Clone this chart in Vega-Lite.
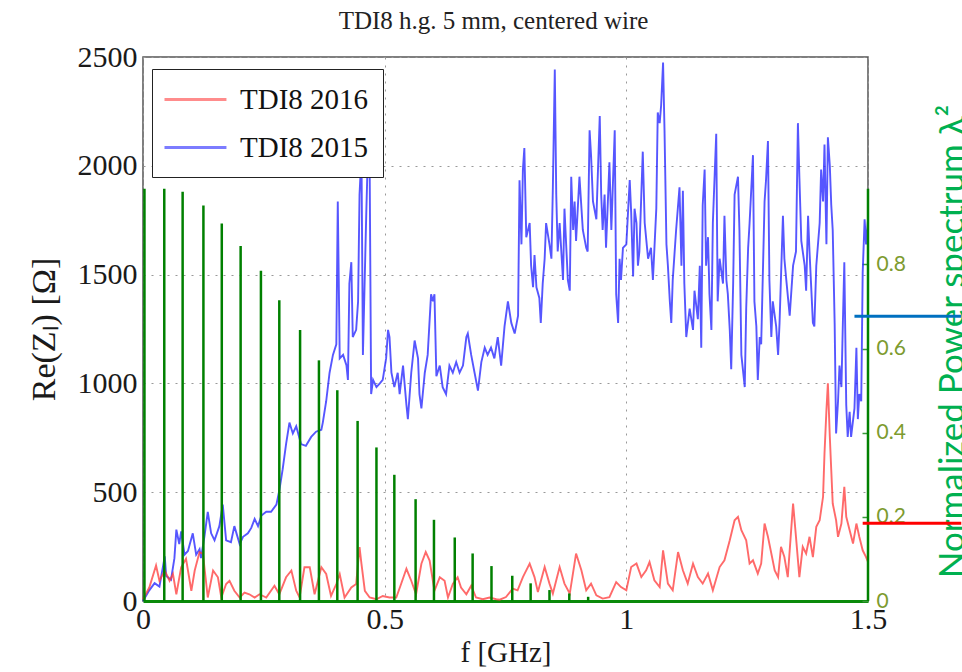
{
"$schema": "https://vega.github.io/schema/vega-lite/v6.json",
"width": 725,
"height": 544,
"autosize": "none",
"padding": {"left": 143, "top": 57, "right": 94, "bottom": 71},
"background": "white",
"title": {"text": "TDI8 h.g. 5 mm, centered wire", "font": "Liberation Serif", "fontSize": 25, "fontWeight": "normal", "color": "#222", "anchor": "middle", "dx": -12, "offset": 8},
"datasets": {
"lines": [
{"s":"TDI8 2015","f":0,"z":0},{"s":"TDI8 2015","f":0.013,"z":49},{"s":"TDI8 2015","f":0.024,"z":82},{"s":"TDI8 2015","f":0.034,"z":66},{"s":"TDI8 2015","f":0.045,"z":205},{"s":"TDI8 2015","f":0.048,"z":115},{"s":"TDI8 2015","f":0.058,"z":98},{"s":"TDI8 2015","f":0.065,"z":197},{"s":"TDI8 2015","f":0.069,"z":328},{"s":"TDI8 2015","f":0.075,"z":262},{"s":"TDI8 2015","f":0.079,"z":320},{"s":"TDI8 2015","f":0.086,"z":213},{"s":"TDI8 2015","f":0.093,"z":230},{"s":"TDI8 2015","f":0.103,"z":311},{"s":"TDI8 2015","f":0.11,"z":213},{"s":"TDI8 2015","f":0.117,"z":238},{"s":"TDI8 2015","f":0.12,"z":197},{"s":"TDI8 2015","f":0.127,"z":295},{"s":"TDI8 2015","f":0.134,"z":410},{"s":"TDI8 2015","f":0.141,"z":311},{"s":"TDI8 2015","f":0.148,"z":279},{"s":"TDI8 2015","f":0.158,"z":344},{"s":"TDI8 2015","f":0.165,"z":443},{"s":"TDI8 2015","f":0.172,"z":279},{"s":"TDI8 2015","f":0.182,"z":270},{"s":"TDI8 2015","f":0.189,"z":344},{"s":"TDI8 2015","f":0.2,"z":262},{"s":"TDI8 2015","f":0.207,"z":295},{"s":"TDI8 2015","f":0.217,"z":311},{"s":"TDI8 2015","f":0.224,"z":336},{"s":"TDI8 2015","f":0.231,"z":377},{"s":"TDI8 2015","f":0.238,"z":344},{"s":"TDI8 2015","f":0.245,"z":393},{"s":"TDI8 2015","f":0.255,"z":410},{"s":"TDI8 2015","f":0.265,"z":410},{"s":"TDI8 2015","f":0.276,"z":443},{"s":"TDI8 2015","f":0.282,"z":508},{"s":"TDI8 2015","f":0.289,"z":606},{"s":"TDI8 2015","f":0.296,"z":721},{"s":"TDI8 2015","f":0.303,"z":820},{"s":"TDI8 2015","f":0.31,"z":770},{"s":"TDI8 2015","f":0.317,"z":803},{"s":"TDI8 2015","f":0.327,"z":721},{"s":"TDI8 2015","f":0.337,"z":713},{"s":"TDI8 2015","f":0.348,"z":754},{"s":"TDI8 2015","f":0.358,"z":778},{"s":"TDI8 2015","f":0.369,"z":787},
{"s":"TDI8 2015","f":0.372,"z":820},{"s":"TDI8 2015","f":0.379,"z":918},{"s":"TDI8 2015","f":0.386,"z":1049},{"s":"TDI8 2015","f":0.393,"z":1131},{"s":"TDI8 2015","f":0.4,"z":1180},{"s":"TDI8 2015","f":0.403,"z":1836},{"s":"TDI8 2015","f":0.407,"z":1115},{"s":"TDI8 2015","f":0.414,"z":1131},{"s":"TDI8 2015","f":0.421,"z":1082},{"s":"TDI8 2015","f":0.424,"z":1016},{"s":"TDI8 2015","f":0.427,"z":1459},{"s":"TDI8 2015","f":0.431,"z":1557},{"s":"TDI8 2015","f":0.434,"z":1213},{"s":"TDI8 2015","f":0.441,"z":1246},{"s":"TDI8 2015","f":0.445,"z":1377},{"s":"TDI8 2015","f":0.448,"z":1868},{"s":"TDI8 2015","f":0.452,"z":2050},{"s":"TDI8 2015","f":0.455,"z":1131},{"s":"TDI8 2015","f":0.462,"z":1786},{"s":"TDI8 2015","f":0.465,"z":2032},{"s":"TDI8 2015","f":0.469,"z":1983},{"s":"TDI8 2015","f":0.472,"z":951},{"s":"TDI8 2015","f":0.476,"z":1016},{"s":"TDI8 2015","f":0.483,"z":983},{"s":"TDI8 2015","f":0.49,"z":1000},{"s":"TDI8 2015","f":0.496,"z":1016},{"s":"TDI8 2015","f":0.503,"z":1115},{"s":"TDI8 2015","f":0.507,"z":1246},{"s":"TDI8 2015","f":0.51,"z":1213},{"s":"TDI8 2015","f":0.514,"z":1049},{"s":"TDI8 2015","f":0.52,"z":983},{"s":"TDI8 2015","f":0.527,"z":1049},{"s":"TDI8 2015","f":0.531,"z":951},{"s":"TDI8 2015","f":0.538,"z":1082},{"s":"TDI8 2015","f":0.545,"z":901},{"s":"TDI8 2015","f":0.548,"z":836},{"s":"TDI8 2015","f":0.555,"z":1049},{"s":"TDI8 2015","f":0.562,"z":1197},{"s":"TDI8 2015","f":0.569,"z":1115},{"s":"TDI8 2015","f":0.572,"z":951},{"s":"TDI8 2015","f":0.576,"z":885},{"s":"TDI8 2015","f":0.583,"z":1049},{"s":"TDI8 2015","f":0.589,"z":1131},{"s":"TDI8 2015","f":0.596,"z":1410},{"s":"TDI8 2015","f":0.6,"z":1377},{"s":"TDI8 2015","f":0.603,"z":1410},{"s":"TDI8 2015","f":0.607,"z":1033},{"s":"TDI8 2015","f":0.614,"z":1082},{"s":"TDI8 2015","f":0.62,"z":983},{"s":"TDI8 2015","f":0.627,"z":951},{"s":"TDI8 2015","f":0.634,"z":1082},{"s":"TDI8 2015","f":0.641,"z":1049},{"s":"TDI8 2015","f":0.648,"z":1098},{"s":"TDI8 2015","f":0.655,"z":1049},{"s":"TDI8 2015","f":0.662,"z":1082},{"s":"TDI8 2015","f":0.669,"z":1213},{"s":"TDI8 2015","f":0.672,"z":1229},{"s":"TDI8 2015","f":0.679,"z":1131},{"s":"TDI8 2015","f":0.686,"z":1049},{"s":"TDI8 2015","f":0.693,"z":967},{"s":"TDI8 2015","f":0.7,"z":1098},{"s":"TDI8 2015","f":0.707,"z":1164},{"s":"TDI8 2015","f":0.713,"z":1131},{"s":"TDI8 2015","f":0.72,"z":1164},{"s":"TDI8 2015","f":0.727,"z":1115},{"s":"TDI8 2015","f":0.734,"z":1213},{"s":"TDI8 2015","f":0.741,"z":1082},
{"s":"TDI8 2015","f":0.748,"z":1262},{"s":"TDI8 2015","f":0.755,"z":1377},{"s":"TDI8 2015","f":0.762,"z":1278},{"s":"TDI8 2015","f":0.769,"z":1229},{"s":"TDI8 2015","f":0.776,"z":1311},{"s":"TDI8 2015","f":0.779,"z":1934},{"s":"TDI8 2015","f":0.783,"z":1639},{"s":"TDI8 2015","f":0.786,"z":1983},{"s":"TDI8 2015","f":0.789,"z":2082},{"s":"TDI8 2015","f":0.793,"z":1672},{"s":"TDI8 2015","f":0.8,"z":1737},{"s":"TDI8 2015","f":0.803,"z":1541},{"s":"TDI8 2015","f":0.807,"z":1442},{"s":"TDI8 2015","f":0.81,"z":1590},{"s":"TDI8 2015","f":0.814,"z":1442},{"s":"TDI8 2015","f":0.82,"z":1393},{"s":"TDI8 2015","f":0.823,"z":1278},{"s":"TDI8 2015","f":0.827,"z":1459},{"s":"TDI8 2015","f":0.831,"z":1573},{"s":"TDI8 2015","f":0.834,"z":1737},{"s":"TDI8 2015","f":0.841,"z":1639},{"s":"TDI8 2015","f":0.845,"z":1573},{"s":"TDI8 2015","f":0.848,"z":1901},{"s":"TDI8 2015","f":0.852,"z":2442},{"s":"TDI8 2015","f":0.855,"z":1868},{"s":"TDI8 2015","f":0.858,"z":1606},{"s":"TDI8 2015","f":0.862,"z":1737},{"s":"TDI8 2015","f":0.869,"z":1475},{"s":"TDI8 2015","f":0.872,"z":1803},{"s":"TDI8 2015","f":0.879,"z":1475},{"s":"TDI8 2015","f":0.883,"z":1426},{"s":"TDI8 2015","f":0.886,"z":1950},{"s":"TDI8 2015","f":0.89,"z":1705},{"s":"TDI8 2015","f":0.893,"z":1836},{"s":"TDI8 2015","f":0.896,"z":1655},{"s":"TDI8 2015","f":0.903,"z":1950},{"s":"TDI8 2015","f":0.91,"z":1705},{"s":"TDI8 2015","f":0.917,"z":1623},{"s":"TDI8 2015","f":0.92,"z":1606},{"s":"TDI8 2015","f":0.924,"z":2163},{"s":"TDI8 2015","f":0.927,"z":2049},{"s":"TDI8 2015","f":0.931,"z":1836},{"s":"TDI8 2015","f":0.938,"z":1754},{"s":"TDI8 2015","f":0.945,"z":2229},{"s":"TDI8 2015","f":0.948,"z":1868},{"s":"TDI8 2015","f":0.951,"z":1705},{"s":"TDI8 2015","f":0.955,"z":1868},{"s":"TDI8 2015","f":0.958,"z":1623},{"s":"TDI8 2015","f":0.965,"z":2016},{"s":"TDI8 2015","f":0.969,"z":1705},{"s":"TDI8 2015","f":0.976,"z":2163},{"s":"TDI8 2015","f":0.979,"z":1410},{"s":"TDI8 2015","f":0.983,"z":1278},{"s":"TDI8 2015","f":0.986,"z":1573},{"s":"TDI8 2015","f":0.989,"z":1475},{"s":"TDI8 2015","f":0.993,"z":1623},{"s":"TDI8 2015","f":1.0,"z":1639},{"s":"TDI8 2015","f":1.007,"z":1934},{"s":"TDI8 2015","f":1.01,"z":1787},{"s":"TDI8 2015","f":1.014,"z":1491},{"s":"TDI8 2015","f":1.017,"z":1803},{"s":"TDI8 2015","f":1.021,"z":1737},{"s":"TDI8 2015","f":1.024,"z":1541},{"s":"TDI8 2015","f":1.027,"z":1606},{"s":"TDI8 2015","f":1.034,"z":2065},{"s":"TDI8 2015","f":1.038,"z":1737},{"s":"TDI8 2015","f":1.045,"z":1573},{"s":"TDI8 2015","f":1.051,"z":1623},{"s":"TDI8 2015","f":1.055,"z":1475},{"s":"TDI8 2015","f":1.062,"z":1803},{"s":"TDI8 2015","f":1.065,"z":2245},{"s":"TDI8 2015","f":1.069,"z":2196},{"s":"TDI8 2015","f":1.072,"z":2278},{"s":"TDI8 2015","f":1.076,"z":2475},{"s":"TDI8 2015","f":1.079,"z":2163},{"s":"TDI8 2015","f":1.083,"z":1639},{"s":"TDI8 2015","f":1.086,"z":1541},{"s":"TDI8 2015","f":1.09,"z":1377},{"s":"TDI8 2015","f":1.093,"z":1278},{"s":"TDI8 2015","f":1.096,"z":1475},{"s":"TDI8 2015","f":1.103,"z":1705},
{"s":"TDI8 2015","f":1.11,"z":1901},{"s":"TDI8 2015","f":1.114,"z":1541},{"s":"TDI8 2015","f":1.117,"z":1885},{"s":"TDI8 2015","f":1.12,"z":1459},{"s":"TDI8 2015","f":1.124,"z":1213},{"s":"TDI8 2015","f":1.131,"z":1344},{"s":"TDI8 2015","f":1.138,"z":1246},{"s":"TDI8 2015","f":1.141,"z":1426},{"s":"TDI8 2015","f":1.148,"z":1295},{"s":"TDI8 2015","f":1.152,"z":1541},{"s":"TDI8 2015","f":1.155,"z":1164},{"s":"TDI8 2015","f":1.158,"z":1819},{"s":"TDI8 2015","f":1.162,"z":1983},{"s":"TDI8 2015","f":1.165,"z":1541},{"s":"TDI8 2015","f":1.169,"z":1672},{"s":"TDI8 2015","f":1.172,"z":1410},{"s":"TDI8 2015","f":1.176,"z":1246},{"s":"TDI8 2015","f":1.179,"z":1737},{"s":"TDI8 2015","f":1.186,"z":2147},{"s":"TDI8 2015","f":1.189,"z":1377},{"s":"TDI8 2015","f":1.193,"z":1573},{"s":"TDI8 2015","f":1.2,"z":1459},{"s":"TDI8 2015","f":1.203,"z":1770},{"s":"TDI8 2015","f":1.207,"z":1475},{"s":"TDI8 2015","f":1.21,"z":1410},{"s":"TDI8 2015","f":1.214,"z":1246},{"s":"TDI8 2015","f":1.217,"z":1065},{"s":"TDI8 2015","f":1.221,"z":1459},{"s":"TDI8 2015","f":1.224,"z":1868},{"s":"TDI8 2015","f":1.231,"z":1950},{"s":"TDI8 2015","f":1.234,"z":1705},{"s":"TDI8 2015","f":1.238,"z":1131},{"s":"TDI8 2015","f":1.245,"z":983},{"s":"TDI8 2015","f":1.248,"z":1344},{"s":"TDI8 2015","f":1.252,"z":1623},{"s":"TDI8 2015","f":1.255,"z":1737},{"s":"TDI8 2015","f":1.262,"z":2049},{"s":"TDI8 2015","f":1.265,"z":1377},{"s":"TDI8 2015","f":1.269,"z":1262},{"s":"TDI8 2015","f":1.272,"z":1016},{"s":"TDI8 2015","f":1.276,"z":1213},{"s":"TDI8 2015","f":1.279,"z":1180},{"s":"TDI8 2015","f":1.286,"z":1836},{"s":"TDI8 2015","f":1.289,"z":1934},{"s":"TDI8 2015","f":1.293,"z":2114},{"s":"TDI8 2015","f":1.296,"z":1475},{"s":"TDI8 2015","f":1.3,"z":1213},{"s":"TDI8 2015","f":1.303,"z":1377},{"s":"TDI8 2015","f":1.31,"z":1262},{"s":"TDI8 2015","f":1.314,"z":1131},{"s":"TDI8 2015","f":1.317,"z":1278},{"s":"TDI8 2015","f":1.324,"z":1770},{"s":"TDI8 2015","f":1.327,"z":1573},{"s":"TDI8 2015","f":1.331,"z":1475},{"s":"TDI8 2015","f":1.338,"z":1311},{"s":"TDI8 2015","f":1.341,"z":1410},{"s":"TDI8 2015","f":1.345,"z":1541},{"s":"TDI8 2015","f":1.351,"z":1606},{"s":"TDI8 2015","f":1.355,"z":2196},{"s":"TDI8 2015","f":1.358,"z":1950},{"s":"TDI8 2015","f":1.362,"z":1655},{"s":"TDI8 2015","f":1.369,"z":1541},{"s":"TDI8 2015","f":1.372,"z":1426},{"s":"TDI8 2015","f":1.376,"z":1770},{"s":"TDI8 2015","f":1.379,"z":1606},{"s":"TDI8 2015","f":1.386,"z":1278},{"s":"TDI8 2015","f":1.389,"z":1262},{"s":"TDI8 2015","f":1.393,"z":1541},{"s":"TDI8 2015","f":1.4,"z":1737},{"s":"TDI8 2015","f":1.403,"z":1983},{"s":"TDI8 2015","f":1.407,"z":1836},{"s":"TDI8 2015","f":1.41,"z":2098},{"s":"TDI8 2015","f":1.414,"z":1639},{"s":"TDI8 2015","f":1.417,"z":2131},{"s":"TDI8 2015","f":1.421,"z":2000},{"s":"TDI8 2015","f":1.424,"z":1819},{"s":"TDI8 2015","f":1.427,"z":1705},{"s":"TDI8 2015","f":1.431,"z":1278},{"s":"TDI8 2015","f":1.434,"z":770},{"s":"TDI8 2015","f":1.438,"z":918},{"s":"TDI8 2015","f":1.441,"z":1082},{"s":"TDI8 2015","f":1.445,"z":983},{"s":"TDI8 2015","f":1.448,"z":1278},{"s":"TDI8 2015","f":1.451,"z":1557},{"s":"TDI8 2015","f":1.455,"z":901},{"s":"TDI8 2015","f":1.458,"z":754},{"s":"TDI8 2015","f":1.462,"z":869},{"s":"TDI8 2015","f":1.465,"z":754},{"s":"TDI8 2015","f":1.472,"z":885},{"s":"TDI8 2015","f":1.476,"z":1164},{"s":"TDI8 2015","f":1.479,"z":836},{"s":"TDI8 2015","f":1.482,"z":951},{"s":"TDI8 2015","f":1.486,"z":918},{"s":"TDI8 2015","f":1.489,"z":1508},{"s":"TDI8 2015","f":1.493,"z":1754},{"s":"TDI8 2015","f":1.496,"z":1639},{"s":"TDI8 2015","f":1.5,"z":1750},
{"s":"TDI8 2016","f":0,"z":8},{"s":"TDI8 2016","f":0.013,"z":62},{"s":"TDI8 2016","f":0.027,"z":163},{"s":"TDI8 2016","f":0.034,"z":93},{"s":"TDI8 2016","f":0.045,"z":140},{"s":"TDI8 2016","f":0.055,"z":93},{"s":"TDI8 2016","f":0.062,"z":124},{"s":"TDI8 2016","f":0.069,"z":31},{"s":"TDI8 2016","f":0.079,"z":155},{"s":"TDI8 2016","f":0.089,"z":194},{"s":"TDI8 2016","f":0.1,"z":47},{"s":"TDI8 2016","f":0.107,"z":140},{"s":"TDI8 2016","f":0.117,"z":225},{"s":"TDI8 2016","f":0.124,"z":217},{"s":"TDI8 2016","f":0.134,"z":16},{"s":"TDI8 2016","f":0.145,"z":140},{"s":"TDI8 2016","f":0.155,"z":109},{"s":"TDI8 2016","f":0.162,"z":16},{"s":"TDI8 2016","f":0.172,"z":78},{"s":"TDI8 2016","f":0.179,"z":93},{"s":"TDI8 2016","f":0.189,"z":47},{"s":"TDI8 2016","f":0.2,"z":16},{"s":"TDI8 2016","f":0.21,"z":39},{"s":"TDI8 2016","f":0.22,"z":31},{"s":"TDI8 2016","f":0.231,"z":16},{"s":"TDI8 2016","f":0.241,"z":31},{"s":"TDI8 2016","f":0.255,"z":16},{"s":"TDI8 2016","f":0.272,"z":70},{"s":"TDI8 2016","f":0.282,"z":31},{"s":"TDI8 2016","f":0.296,"z":109},{"s":"TDI8 2016","f":0.307,"z":140},{"s":"TDI8 2016","f":0.317,"z":47},{"s":"TDI8 2016","f":0.324,"z":16},{"s":"TDI8 2016","f":0.334,"z":155},{"s":"TDI8 2016","f":0.345,"z":155},{"s":"TDI8 2016","f":0.355,"z":31},{"s":"TDI8 2016","f":0.369,"z":155},{"s":"TDI8 2016","f":0.379,"z":124},{"s":"TDI8 2016","f":0.389,"z":23},{"s":"TDI8 2016","f":0.4,"z":78},{"s":"TDI8 2016","f":0.407,"z":124},{"s":"TDI8 2016","f":0.417,"z":16},{"s":"TDI8 2016","f":0.431,"z":62},{"s":"TDI8 2016","f":0.441,"z":78},{"s":"TDI8 2016","f":0.448,"z":248},{"s":"TDI8 2016","f":0.452,"z":171},{"s":"TDI8 2016","f":0.459,"z":47},{"s":"TDI8 2016","f":0.469,"z":16},{"s":"TDI8 2016","f":0.483,"z":8},{"s":"TDI8 2016","f":0.496,"z":23},{"s":"TDI8 2016","f":0.51,"z":16},{"s":"TDI8 2016","f":0.524,"z":16},{"s":"TDI8 2016","f":0.534,"z":78},{"s":"TDI8 2016","f":0.545,"z":148},{"s":"TDI8 2016","f":0.555,"z":93},{"s":"TDI8 2016","f":0.565,"z":31},{"s":"TDI8 2016","f":0.576,"z":171},{"s":"TDI8 2016","f":0.585,"z":225},{"s":"TDI8 2016","f":0.593,"z":186},{"s":"TDI8 2016","f":0.603,"z":47},{"s":"TDI8 2016","f":0.614,"z":109},{"s":"TDI8 2016","f":0.624,"z":93},{"s":"TDI8 2016","f":0.631,"z":16},{"s":"TDI8 2016","f":0.641,"z":78},{"s":"TDI8 2016","f":0.651,"z":109},{"s":"TDI8 2016","f":0.658,"z":62},{"s":"TDI8 2016","f":0.669,"z":31},{"s":"TDI8 2016","f":0.679,"z":70},{"s":"TDI8 2016","f":0.689,"z":16},{"s":"TDI8 2016","f":0.703,"z":8},{"s":"TDI8 2016","f":0.717,"z":16},{"s":"TDI8 2016","f":0.731,"z":8},
{"s":"TDI8 2016","f":0.738,"z":6},{"s":"TDI8 2016","f":0.751,"z":18},{"s":"TDI8 2016","f":0.765,"z":57},{"s":"TDI8 2016","f":0.775,"z":49},{"s":"TDI8 2016","f":0.786,"z":110},{"s":"TDI8 2016","f":0.8,"z":172},{"s":"TDI8 2016","f":0.81,"z":110},{"s":"TDI8 2016","f":0.817,"z":41},{"s":"TDI8 2016","f":0.831,"z":156},{"s":"TDI8 2016","f":0.841,"z":80},{"s":"TDI8 2016","f":0.848,"z":34},{"s":"TDI8 2016","f":0.862,"z":156},{"s":"TDI8 2016","f":0.872,"z":80},{"s":"TDI8 2016","f":0.883,"z":34},{"s":"TDI8 2016","f":0.896,"z":218},{"s":"TDI8 2016","f":0.907,"z":141},{"s":"TDI8 2016","f":0.917,"z":49},{"s":"TDI8 2016","f":0.927,"z":80},{"s":"TDI8 2016","f":0.938,"z":26},{"s":"TDI8 2016","f":0.951,"z":11},{"s":"TDI8 2016","f":0.965,"z":18},{"s":"TDI8 2016","f":0.979,"z":87},{"s":"TDI8 2016","f":0.989,"z":64},{"s":"TDI8 2016","f":1.0,"z":49},{"s":"TDI8 2016","f":1.01,"z":156},{"s":"TDI8 2016","f":1.021,"z":172},{"s":"TDI8 2016","f":1.031,"z":110},{"s":"TDI8 2016","f":1.041,"z":141},{"s":"TDI8 2016","f":1.048,"z":179},{"s":"TDI8 2016","f":1.058,"z":95},{"s":"TDI8 2016","f":1.069,"z":64},{"s":"TDI8 2016","f":1.076,"z":233},{"s":"TDI8 2016","f":1.086,"z":80},{"s":"TDI8 2016","f":1.096,"z":49},{"s":"TDI8 2016","f":1.107,"z":225},{"s":"TDI8 2016","f":1.117,"z":141},{"s":"TDI8 2016","f":1.127,"z":80},{"s":"TDI8 2016","f":1.138,"z":172},{"s":"TDI8 2016","f":1.148,"z":110},{"s":"TDI8 2016","f":1.158,"z":80},{"s":"TDI8 2016","f":1.169,"z":126},{"s":"TDI8 2016","f":1.179,"z":49},{"s":"TDI8 2016","f":1.193,"z":156},{"s":"TDI8 2016","f":1.203,"z":187},{"s":"TDI8 2016","f":1.214,"z":279},{"s":"TDI8 2016","f":1.224,"z":371},{"s":"TDI8 2016","f":1.231,"z":387},{"s":"TDI8 2016","f":1.238,"z":325},{"s":"TDI8 2016","f":1.248,"z":279},{"s":"TDI8 2016","f":1.255,"z":172},{"s":"TDI8 2016","f":1.262,"z":187},{"s":"TDI8 2016","f":1.272,"z":126},{"s":"TDI8 2016","f":1.279,"z":172},{"s":"TDI8 2016","f":1.286,"z":356},{"s":"TDI8 2016","f":1.293,"z":295},{"s":"TDI8 2016","f":1.3,"z":218},{"s":"TDI8 2016","f":1.307,"z":141},{"s":"TDI8 2016","f":1.314,"z":110},{"s":"TDI8 2016","f":1.32,"z":249},{"s":"TDI8 2016","f":1.327,"z":202},{"s":"TDI8 2016","f":1.334,"z":110},{"s":"TDI8 2016","f":1.345,"z":448},{"s":"TDI8 2016","f":1.351,"z":295},{"s":"TDI8 2016","f":1.358,"z":110},{"s":"TDI8 2016","f":1.365,"z":249},{"s":"TDI8 2016","f":1.372,"z":218},{"s":"TDI8 2016","f":1.379,"z":295},{"s":"TDI8 2016","f":1.386,"z":202},{"s":"TDI8 2016","f":1.393,"z":341},{"s":"TDI8 2016","f":1.4,"z":371},{"s":"TDI8 2016","f":1.407,"z":479},{"s":"TDI8 2016","f":1.41,"z":678},{"s":"TDI8 2016","f":1.414,"z":877},{"s":"TDI8 2016","f":1.417,"z":1000},{"s":"TDI8 2016","f":1.421,"z":755},{"s":"TDI8 2016","f":1.424,"z":601},{"s":"TDI8 2016","f":1.427,"z":448},{"s":"TDI8 2016","f":1.434,"z":371},{"s":"TDI8 2016","f":1.438,"z":295},{"s":"TDI8 2016","f":1.445,"z":356},{"s":"TDI8 2016","f":1.451,"z":525},{"s":"TDI8 2016","f":1.455,"z":387},{"s":"TDI8 2016","f":1.462,"z":325},{"s":"TDI8 2016","f":1.469,"z":264},{"s":"TDI8 2016","f":1.476,"z":356},{"s":"TDI8 2016","f":1.482,"z":295},{"s":"TDI8 2016","f":1.489,"z":233},{"s":"TDI8 2016","f":1.496,"z":202},{"s":"TDI8 2016","f":1.5,"z":180}
],
"spectrum": [
{"f":0.003,"p":0.98},{"f":0.044,"p":0.98},{"f":0.082,"p":0.973},{"f":0.125,"p":0.94},{"f":0.163,"p":0.897},{"f":0.202,"p":0.844},{"f":0.244,"p":0.785},{"f":0.282,"p":0.715},{"f":0.325,"p":0.644},{"f":0.364,"p":0.572},{"f":0.402,"p":0.501},{"f":0.444,"p":0.428},{"f":0.483,"p":0.365},{"f":0.52,"p":0.3},{"f":0.564,"p":0.242},{"f":0.602,"p":0.193},{"f":0.645,"p":0.151},{"f":0.682,"p":0.113},{"f":0.721,"p":0.083},{"f":0.764,"p":0.06},{"f":0.802,"p":0.042},{"f":0.841,"p":0.026},{"f":0.882,"p":0.018},{"f":0.921,"p":0.01}
],
"greenaxis": [{"f":1.5,"p":0.98}],
"bluemark": [{"f":1.472,"f2":1.693,"p":0.677}],
"redmark": [{"f":1.489,"f2":1.693,"p":0.185}]
},
"layer": [
{
"data": {"name": "lines"},
"mark": {"type": "line", "strokeWidth": 1.9, "opacity": 0.78},
"encoding": {
"x": {"field": "f", "type": "quantitative", "scale": {"domain": [0, 1.5], "nice": false, "zero": false},
"axis": {"values": [0, 0.5, 1, 1.5], "format": "~g", "title": "f [GHz]", "grid": true, "gridDash": [2, 6], "gridColor": "#999", "ticks": false, "domainColor": "#0a8a0a", "domainWidth": 3, "labelFont": "Liberation Serif", "labelFontSize": 30, "labelColor": "#1a1a1a", "labelPadding": 3, "labelFlush": false, "titleFont": "Liberation Serif", "titleFontSize": 29, "titleFontWeight": "normal", "titleColor": "#1a1a1a", "titlePadding": 4}},
"y": {"field": "z", "type": "quantitative", "scale": {"domain": [0, 2500], "nice": false},
"axis": {"values": [0, 500, 1000, 1500, 2000, 2500], "format": "d", "title": "Re(Zₗ) [Ω]", "grid": true, "gridDash": [2, 6], "gridColor": "#999", "ticks": false, "domain": false, "labelFont": "Liberation Serif", "labelFontSize": 30, "labelColor": "#1a1a1a", "labelPadding": 6, "labelFlush": false, "titleFont": "Liberation Serif", "titleFontSize": 34, "titleFontWeight": "normal", "titleColor": "#1a1a1a", "titlePadding": 16}},
"color": {"field": "s", "type": "nominal", "scale": {"domain": ["TDI8 2016", "TDI8 2015"], "range": ["#ff4040", "#2626ff"]},
"legend": {"title": null, "orient": "none", "legendX": 9, "legendY": 12, "fillColor": "white", "strokeColor": "#222", "padding": 14, "rowPadding": 16, "symbolType": "M-1.2,0L2.93,0", "symbolSize": 900, "symbolStrokeWidth": 3, "symbolOpacity": 0.6, "labelOffset": 41, "labelFont": "Liberation Serif", "labelFontSize": 29, "labelColor": "#111"}}
}
},
{
"layer": [
{
"data": {"name": "spectrum"},
"mark": {"type": "rule", "color": "#008000", "strokeWidth": 2.5},
"encoding": {
"x": {"field": "f", "type": "quantitative", "scale": {"domain": [0, 1.5], "nice": false, "zero": false}},
"y": {"field": "p", "type": "quantitative", "scale": {"domain": [0, 1.293], "nice": false},
"axis": {"orient": "right", "values": [0, 0.2, 0.4, 0.6, 0.8], "format": "~g", "domain": false, "grid": false, "ticks": true, "tickColor": "#3a9a3a", "tickSize": -6, "tickWidth": 1.5, "labelPadding": 14, "labelFont": "Lato", "labelFontSize": 21, "labelColor": "#7d9b2f", "labelFlush": false, "title": "Normalized Power spectrum λ²", "titleFont": "Lato", "titleFontSize": 35, "titleFontWeight": "normal", "titleColor": "#00b050", "titleAngle": 270, "titleX": 95, "titleY": 284, "titleAlign": "center", "titleBaseline": "alphabetic"}},
"y2": {"datum": 0}
}
},
{
"data": {"name": "greenaxis"},
"mark": {"type": "rule", "color": "#008000", "strokeWidth": 2.5},
"encoding": {"x": {"field": "f", "type": "quantitative", "scale": {"domain": [0, 1.5], "nice": false, "zero": false}}, "y": {"field": "p", "type": "quantitative", "scale": {"domain": [0, 1.293], "nice": false}}, "y2": {"datum": 0}}
},
{
"data": {"name": "bluemark"},
"mark": {"type": "rule", "color": "#0070c0", "strokeWidth": 3},
"encoding": {"x": {"field": "f", "type": "quantitative", "scale": {"domain": [0, 1.5], "nice": false, "zero": false}}, "x2": {"field": "f2"}, "y": {"field": "p", "type": "quantitative", "scale": {"domain": [0, 1.293], "nice": false}}}
},
{
"data": {"name": "redmark"},
"mark": {"type": "rule", "color": "#ff0000", "strokeWidth": 3},
"encoding": {"x": {"field": "f", "type": "quantitative", "scale": {"domain": [0, 1.5], "nice": false, "zero": false}}, "x2": {"field": "f2"}, "y": {"field": "p", "type": "quantitative", "scale": {"domain": [0, 1.293], "nice": false}}}
}
]
}
],
"resolve": {"scale": {"y": "independent"}},
"config": {"view": {"stroke": "#555", "strokeWidth": 1.5}}
}
